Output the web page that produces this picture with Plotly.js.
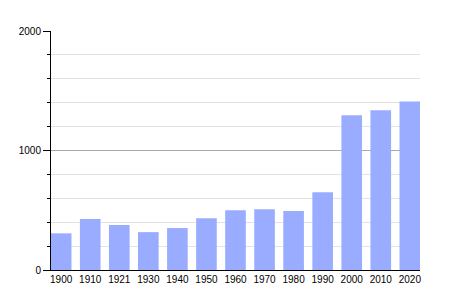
<!DOCTYPE html>
<html>
<head>
<meta charset="utf-8">
<script src="https://cdn.plot.ly/plotly-3.0.1.min.js"></script>
<style>html,body{margin:0;padding:0;background:#fff;}#chart{width:450px;height:300px;}</style>
</head>
<body>
<div id="chart"></div>
<script>
const years = ["1900","1910","1921","1930","1940","1950","1960","1970","1980","1990","2000","2010","2020"];
const population = [307, 426, 376, 317, 351, 434, 501, 509, 493, 651, 1294, 1336, 1409];
const yTickValues = [0, 1000, 2000];

Plotly.newPlot('chart', [{
  type: 'bar',
  x: years,
  y: population,
  marker: {color: '#9aacff', line: {width: 0}},
  hoverinfo: 'x+y'
}], {
  width: 450, height: 300,
  margin: {l: 51, r: 30, t: 31, b: 30},
  paper_bgcolor: '#fff', plot_bgcolor: '#fff',
  bargap: 0.29,
  showlegend: false,
  font: {family: 'Liberation Sans, Arial, sans-serif', size: 10, color: '#000'},
  xaxis: {
    type: 'category',
    range: [-0.35, 12.35],
    showline: true, linecolor: '#000', linewidth: 1,
    ticks: '', showgrid: false, zeroline: false,
    tickfont: {size: 10}
  },
  yaxis: {
    range: [0, 2000],
    tickvals: yTickValues,
    ticktext: yTickValues.map(String),
    showline: true, linecolor: '#000', linewidth: 1,
    ticks: 'outside', ticklen: 7, tickcolor: '#000',
    showgrid: true, gridcolor: '#aaaaaa', gridwidth: 1,
    zeroline: false,
    tickfont: {size: 10},
    minor: {dtick: 200, tick0: 0, ticks: 'outside', ticklen: 3, tickcolor: '#000', showgrid: true, gridcolor: '#e3e3e3', gridwidth: 1}
  }
}, {displayModeBar: false, staticPlot: true});
</script>
</body>
</html>
